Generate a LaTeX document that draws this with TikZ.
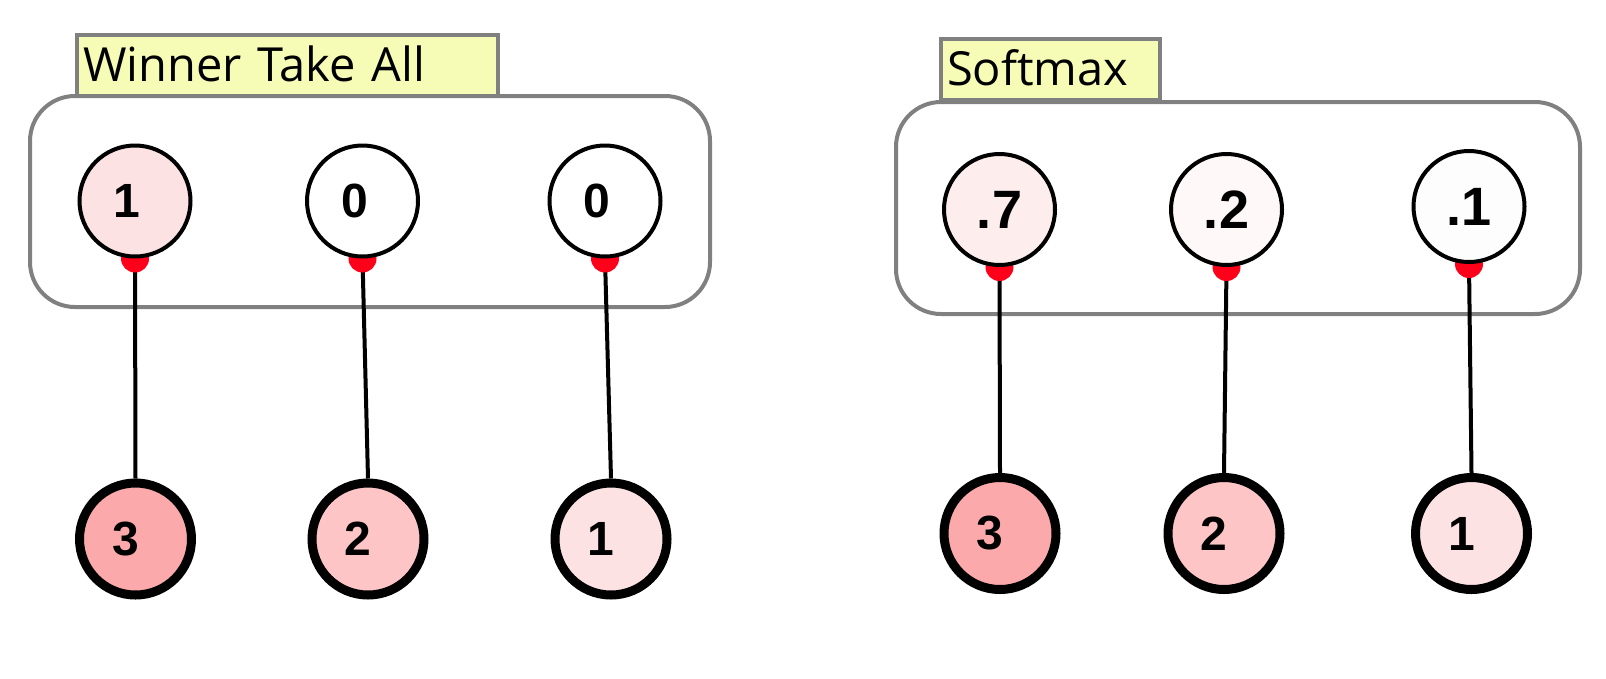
\documentclass[tikz,border=0pt]{standalone}
\usepackage{fontspec}
\setmainfont{Open Sans}
\newfontfamily\numfont{Liberation Sans}
\usepackage{tikz}
\usetikzlibrary{backgrounds}

\definecolor{titlefill}{HTML}{F6FBB6}
\definecolor{boxgray}{HTML}{808080}
\definecolor{dotred}{HTML}{FF001A}
\definecolor{act3}{HTML}{FCA9AB}
\definecolor{act2}{HTML}{FDC5C6}
\definecolor{act1}{HTML}{FDE2E4}
\definecolor{soft7}{HTML}{FDEDED}
\definecolor{soft2}{HTML}{FEF8F8}
\definecolor{soft1}{HTML}{FEFDFE}

\begin{document}
\begin{tikzpicture}[x=1pt,y=-1pt,
        outnode/.style={circle,draw,line width=4pt,minimum size=111pt,inner sep=0pt,
                font=\numfont\bfseries\fontsize{48}{52}\selectfont},
        innode/.style={circle,draw,line width=9pt,minimum size=112pt,inner sep=0pt,
                font=\numfont\bfseries\fontsize{48}{52}\selectfont},
        bignum/.style={font=\numfont\bfseries\fontsize{54}{58}\selectfont},
        lpad/.style={execute at end node={\hspace*{#1}}},
        titlebox/.style={draw=boxgray,fill=titlefill,line width=4pt,anchor=north west,
                outer sep=0pt,inner xsep=6pt,inner ysep=4pt,text height=42pt,text depth=11pt,
                align=left,font=\fontsize{47}{56}\selectfont},
        layerbox/.style={draw=boxgray,line width=4pt,rounded corners=45pt},
        wire/.style={line width=4pt}]
        \useasboundingbox (0,0) rectangle (1606,678);
        % winner take all
        \node[titlebox,text width=409pt] (wtatitle) at (77,35) {Winner Take All};
        \node[outnode,fill=act1,lpad=16pt] (w1) at (135,201) {1};
        \node[outnode,fill=white,lpad=16pt] (w2) at (362.5,201) {0};
        \node[outnode,fill=white,lpad=16pt] (w3) at (605,201) {0};
        \node[innode,fill=act3,lpad=20pt] (wi1) at (135.5,539) {3};
        \node[innode,fill=act2,lpad=20pt] (wi2) at (368,539) {2};
        \node[innode,fill=act1,lpad=20pt] (wi3) at (611,539) {1};
        % softmax
        \node[titlebox,text width=207pt] (smtitle) at (941,39) {Softmax};
        \node[outnode,bignum,fill=soft7] (s1) at (999.5,209.5) {.7};
        \node[outnode,bignum,fill=soft2] (s2) at (1226.5,209.5) {.2};
        \node[outnode,bignum,fill=soft1] (s3) at (1469,206.5) {.1};
        \node[innode,fill=act3,lpad=20pt] (si1) at (1000,533.5) {3};
        \node[innode,fill=act2,lpad=20pt] (si2) at (1224,533.5) {2};
        \node[innode,fill=act1,lpad=20pt] (si3) at (1471.5,533.5) {1};
        \begin{scope}[on background layer]
                \draw[layerbox] (30,96) rectangle (710,307);
                \draw[layerbox] (896,102) rectangle (1580,314);
                \foreach \a/\b in {w1/wi1,w2/wi2,w3/wi3,s1/si1,s2/si2,s3/si3}
                        \draw[wire] (\a.south) -- (\b.north);
                \foreach \a in {w1,w2,w3,s1,s2,s3}
                        \fill[dotred] (\a.south) circle (14pt);
        \end{scope}
\end{tikzpicture}
\end{document}
